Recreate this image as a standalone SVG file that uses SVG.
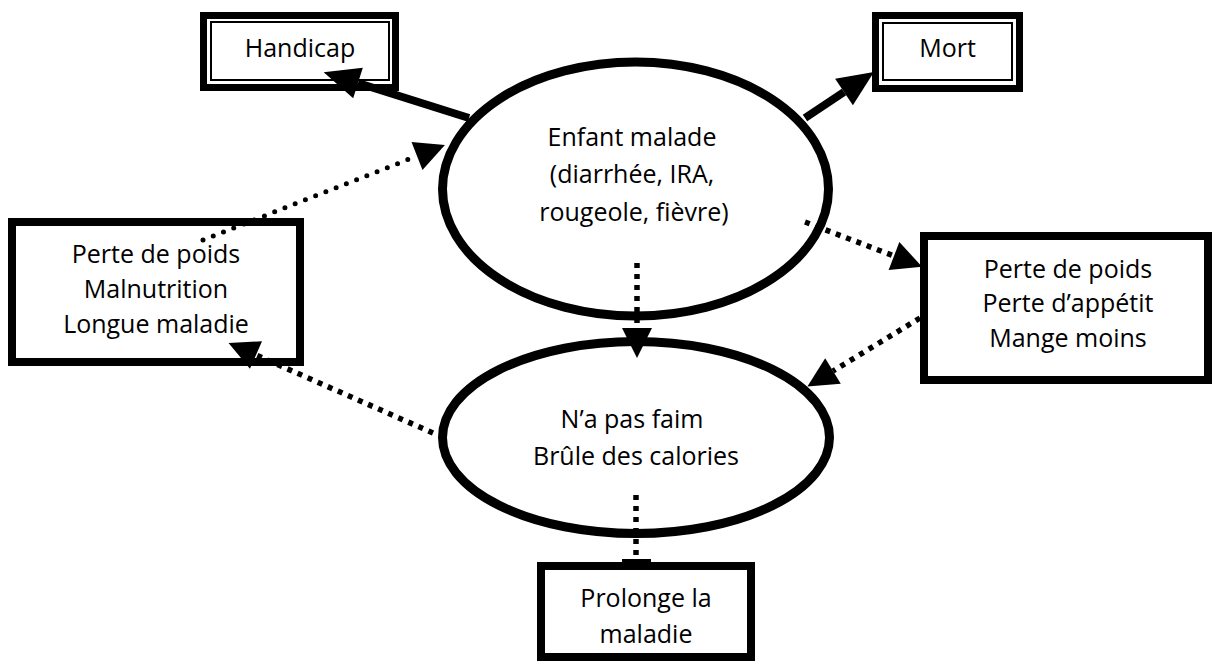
<svg xmlns="http://www.w3.org/2000/svg" width="1214" height="662" viewBox="0 0 1214 662">
<style>
text{font-family:"Open Sans","Liberation Sans",sans-serif;font-size:25px;fill:#000;text-anchor:middle}
.box{fill:#fff;stroke:#000;stroke-width:8}
.thick{fill:#fff;stroke:#000;stroke-width:7}
.thin{fill:none;stroke:#000;stroke-width:2}
.ell{fill:#fff;stroke:#000;stroke-width:9}
.solid{fill:none;stroke:#000;stroke-width:8}
.round{fill:none;stroke:#000;stroke-width:5;stroke-dasharray:0 11;stroke-linecap:round}
.sq{fill:none;stroke:#000;stroke-width:5.5;stroke-dasharray:5 6}
</style>
<defs>
<marker id="big" markerUnits="userSpaceOnUse" markerWidth="36" markerHeight="32" refX="0" refY="16" orient="auto" overflow="visible"><path d="M0,0 L36,16 L0,32 z" fill="#000"/></marker>
<marker id="small" markerUnits="userSpaceOnUse" markerWidth="30" markerHeight="30" refX="0" refY="15" orient="auto" overflow="visible"><path d="M0,0 L30,15 L0,30 z" fill="#000"/></marker>
</defs>
<g id="enfant"><ellipse class="ell" cx="635.5" cy="189" rx="193" ry="127"/>
<text x="632" y="146">Enfant malade</text><text x="632" y="183">(diarrhée, IRA,</text><text x="634" y="221">rougeole, fièvre)</text></g>
<g id="faim"><ellipse class="ell" cx="636" cy="437.5" rx="193.5" ry="96"/>
<text x="632" y="428">N’a pas faim</text><text x="636" y="465">Brûle des calories</text></g>
<g id="handicap"><rect class="thick" x="203.5" y="15.5" width="192" height="72"/><rect class="thin" x="211" y="22" width="178" height="58"/><text x="300" y="57">Handicap</text></g>
<g id="mort"><rect class="thick" x="875.5" y="15.5" width="144" height="73"/><rect class="thin" x="883" y="23" width="129" height="57"/><text x="947.5" y="57">Mort</text></g>
<g id="perte-gauche"><rect class="box" x="12" y="222" width="288" height="140"/><text x="156" y="263">Perte de poids</text><text x="156" y="298">Malnutrition</text><text x="156" y="333">Longue maladie</text></g>
<g id="perte-droite"><rect class="box" x="924" y="236" width="284" height="144"/><text x="1068" y="278">Perte de poids</text><text x="1068" y="312">Perte d’appétit</text><text x="1068" y="347">Mange moins</text></g>
<g id="prolonge"><rect class="box" x="541" y="566" width="210" height="91"/><text x="646" y="607">Prolonge la</text><text x="646" y="643">maladie</text></g>
<g id="connectors">
<line class="solid" x1="469" y1="118" x2="358" y2="83" marker-end="url(#big)"/>
<line class="solid" x1="805" y1="118" x2="844" y2="92" marker-end="url(#big)"/>
<line class="round" x1="203" y1="240" x2="417" y2="156" marker-end="url(#small)"/>
<line class="sq" x1="805" y1="222" x2="894" y2="256" marker-end="url(#small)"/>
<line class="sq" x1="920" y1="318" x2="833" y2="371" marker-end="url(#small)"/>
<line class="sq" x1="637" y1="263" x2="637" y2="328" marker-end="url(#small)"/>
<line class="sq" x1="433" y1="433" x2="256" y2="355" marker-end="url(#small)"/>
<line class="sq" x1="636" y1="495" x2="636" y2="558"/>
<rect x="622" y="559" width="29" height="5" fill="#000"/>
</g>
</svg>
